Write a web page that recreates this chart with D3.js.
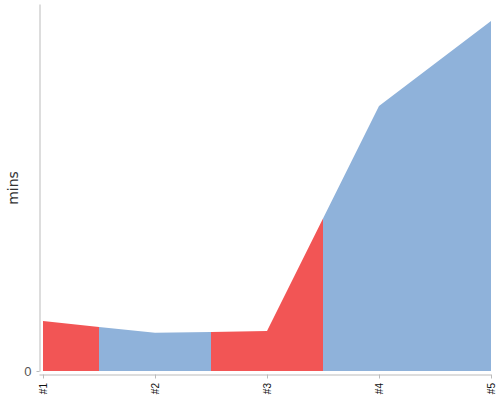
<!DOCTYPE html>
<html>
<head>
<meta charset="utf-8">
<script src="https://cdn.jsdelivr.net/npm/d3@7"></script>
<style>
  html, body { margin: 0; padding: 0; background: #fff; }
  svg { display: block; font-family: "DejaVu Sans", sans-serif; }
</style>
</head>
<body>
<svg id="chart" width="500" height="400"></svg>
<script>
const categories = ["#1", "#2", "#3", "#4", "#5"];
const values = [13.6, 10.4, 10.9, 72.2, 95.4];
const status = ["bad", "good", "bad", "good", "good"];
const yTicks = [0];
const yLabel = "mins";

const colorFor = { bad: "#f25555", good: "#8fb2da" };

const svg = d3.select("#chart");
const x = d3.scalePoint().domain(categories).range([43, 491]);
const y = d3.scaleLinear().domain([0, 100]).range([371, 4]);
const data = categories.map((c, i) => ({ c, v: values[i], s: status[i] }));
const step = x.step();

const defs = svg.append("defs");
data.forEach((d, i) => {
  const x0 = Math.max(x.range()[0], x(d.c) - step / 2);
  const x1 = Math.min(x.range()[1], x(d.c) + step / 2);
  defs.append("clipPath").attr("id", "clip" + i)
    .append("rect").attr("x", x0).attr("y", 0)
    .attr("width", x1 - x0).attr("height", 400);
});

const area = d3.area()
  .x(d => x(d.c))
  .y0(y(0))
  .y1(d => y(d.v));

data.forEach((d, i) => {
  svg.append("path")
    .datum(data)
    .attr("d", area)
    .attr("fill", colorFor[d.s])
    .attr("clip-path", "url(#clip" + i + ")");
});

// y axis
const yAxis = svg.append("g").attr("transform", "translate(39.5,0)")
  .call(d3.axisLeft(y).tickValues(yTicks).tickSize(3).tickSizeOuter(0).tickPadding(5));
yAxis.select(".domain").attr("stroke", "#bbb");
yAxis.selectAll(".tick line").attr("stroke", "#bbb");
yAxis.selectAll(".tick text").attr("fill", "#555").attr("font-size", 13);

// x axis
const xAxis = svg.append("g").attr("transform", "translate(0,374.5)")
  .call(d3.axisBottom(x).tickSize(4).tickSizeOuter(0).tickPadding(6));
xAxis.select(".domain").attr("stroke", "#bbb").attr("d", "M39.5,0.5H491");
xAxis.selectAll(".tick line").attr("stroke", "#bbb");
xAxis.selectAll(".tick text")
  .attr("fill", "#111")
  .attr("font-size", 10)
  .attr("text-anchor", "end")
  .attr("transform", "rotate(-90)")
  .attr("x", -8.5)
  .attr("y", 0)
  .attr("dy", "0.35em");

svg.append("text")
  .attr("transform", "translate(18,188) rotate(-90)")
  .attr("text-anchor", "middle")
  .attr("fill", "#333")
  .attr("font-size", 14)
  .text(yLabel);
</script>
</body>
</html>
